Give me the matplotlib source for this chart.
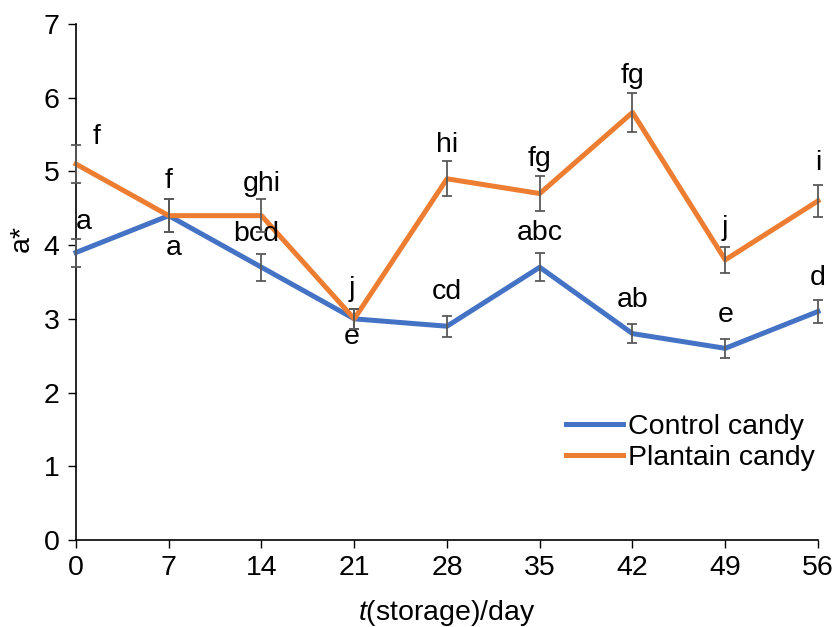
# a* colour value of control and plantain candy during storage

import numpy as np
import matplotlib.pyplot as plt

plt.rcParams['font.family'] = ['Liberation Sans', 'DejaVu Sans']
plt.rcParams['mathtext.fontset'] = 'custom'
plt.rcParams['mathtext.rm'] = 'Liberation Sans'
plt.rcParams['mathtext.it'] = 'Liberation Sans:italic'

# Data
days = [0, 7, 14, 21, 28, 35, 42, 49, 56]
control = [3.9, 4.4, 3.7, 3.0, 2.9, 3.7, 2.8, 2.6, 3.1]
control_err = [0.19, 0.22, 0.18, 0.14, 0.14, 0.19, 0.13, 0.13, 0.15]
control_letters = ['a', 'a', 'bcd', 'e', 'cd', 'abc', 'ab', 'e', 'd']
plantain = [5.1, 4.4, 4.4, 3.0, 4.9, 4.7, 5.8, 3.8, 4.6]
plantain_err = [0.26, 0.22, 0.22, 0.14, 0.24, 0.24, 0.27, 0.18, 0.22]
plantain_letters = ['f', 'f', 'ghi', 'j', 'hi', 'fg', 'fg', 'j', 'i']

# label offsets in pixels (dx, dy), positive dy = up
control_off = [(8, 31), (5, -32), (-5, 33), (-3, -18), (0, 34), (0, 34), (0, 34), (0, 33), (0, 33)]
plantain_off = [(21, 27), (0, 35), (0, 32), (-2, 30), (0, 34), (0, 35), (0, 36), (0, 32), (0, 38)]

blue = '#4472C4'
orange = '#ED7D31'
fs = 20.5

fig = plt.figure(figsize=(8.37, 6.27), dpi=100, facecolor='white')
ax = fig.add_axes([0.0908, 0.1388, 0.8865, 0.8229])

ax.plot(days, control, color=blue, lw=3.6, label='Control candy', zorder=3, clip_on=False)
ax.plot(days, plantain, color=orange, lw=3.6, label='Plantain candy', zorder=3, clip_on=False)
ax.errorbar(days, control, yerr=control_err, fmt='none', ecolor='#595959',
            elinewidth=1.3, capsize=3.8, capthick=1.3, zorder=4, clip_on=False)
ax.errorbar(days, plantain, yerr=plantain_err, fmt='none', ecolor='#595959',
            elinewidth=1.3, capsize=3.8, capthick=1.3, zorder=4, clip_on=False)

for x, y, s, o in zip(days, control, control_letters, control_off):
    ax.annotate(s, (x, y), xytext=o, textcoords='offset pixels',
                ha='center', va='center', fontsize=fs)
for x, y, s, o in zip(days, plantain, plantain_letters, plantain_off):
    ax.annotate(s, (x, y), xytext=o, textcoords='offset pixels',
                ha='center', va='center', fontsize=fs)

ax.set_xlim(0, 56)
ax.set_ylim(0, 7)
ax.set_xticks(days)
ax.set_yticks(range(0, 8))
ax.tick_params(labelsize=fs, length=6, width=1, direction='out')
ax.tick_params(axis='x', pad=5)
ax.tick_params(axis='y', pad=6)
for side in ['top', 'right']:
    ax.spines[side].set_visible(False)
ax.spines['left'].set_linewidth(1.2)
ax.spines['bottom'].set_linewidth(1.2)

ax.set_xlabel(r'$\it{t}$(storage)/day', fontsize=fs, labelpad=12)
ax.set_ylabel('a*', fontsize=fs)
ax.yaxis.set_label_coords(-0.055, 0.585)

ax.legend(loc='upper left', bbox_to_anchor=(0.660, 0.245), frameon=False,
          fontsize=fs, handlelength=2.0, handletextpad=0.2, labelspacing=0.2,
          borderpad=0, borderaxespad=0)

plt.savefig('out.png', dpi=100)
